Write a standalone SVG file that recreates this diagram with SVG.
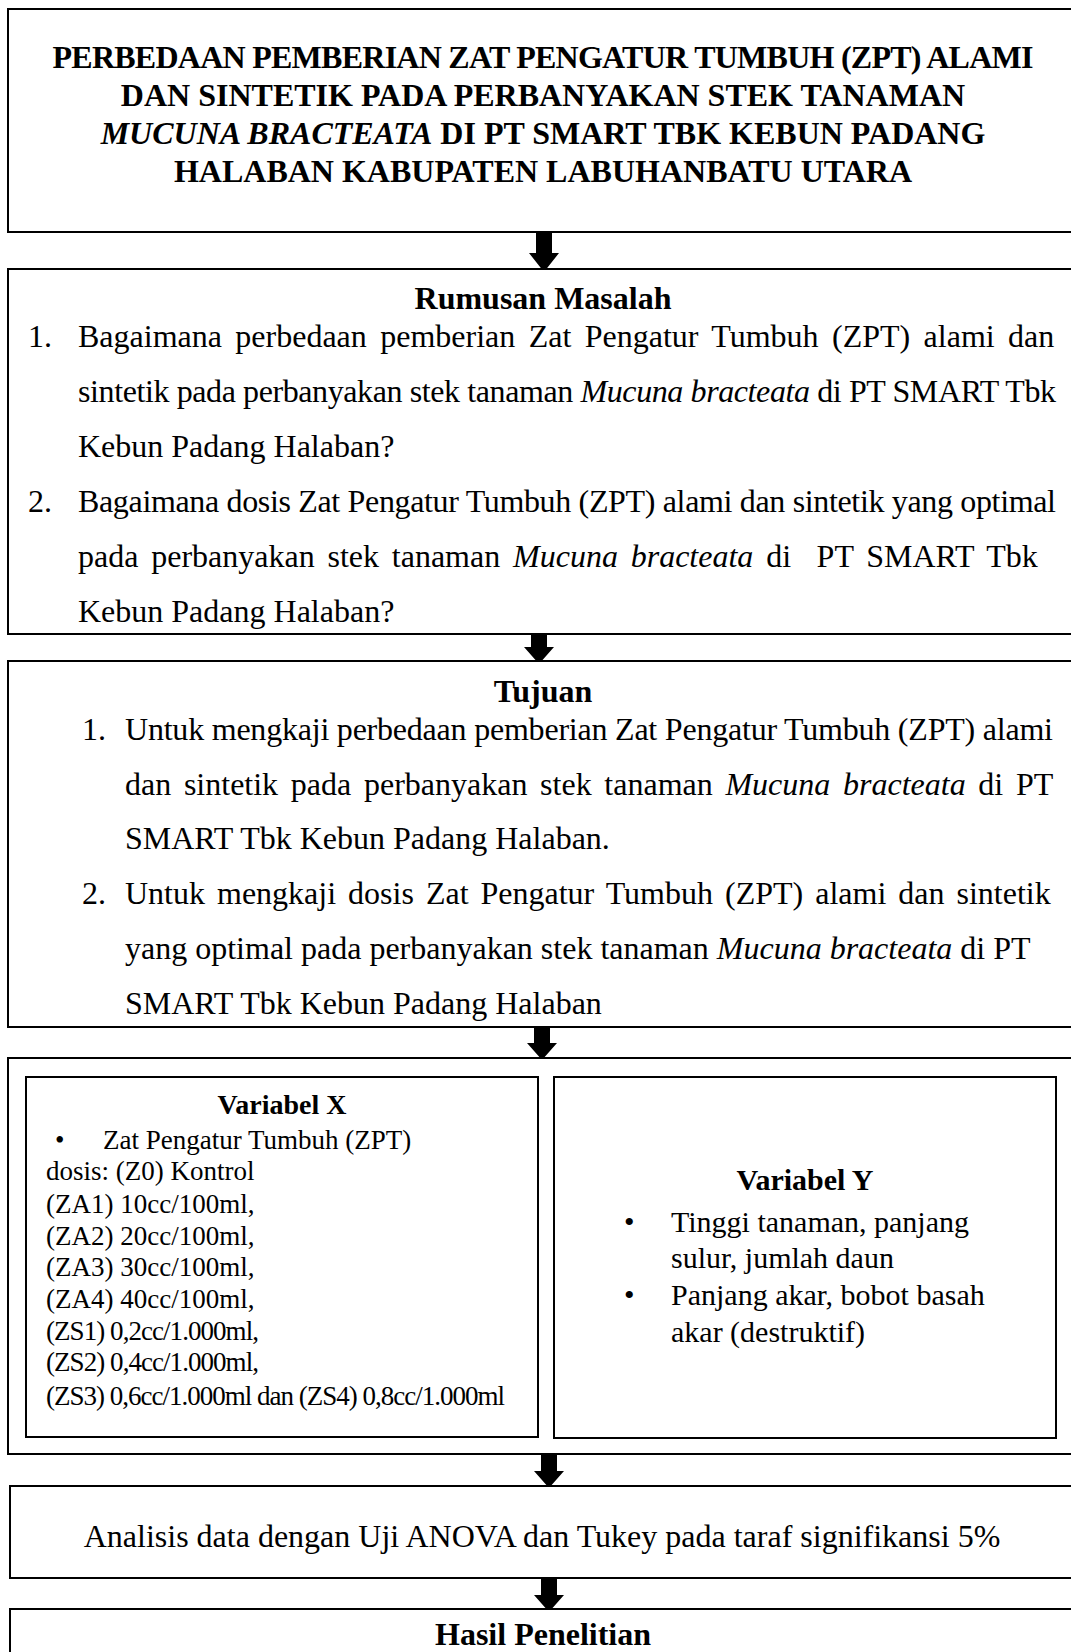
<svg xmlns="http://www.w3.org/2000/svg" width="1071" height="1652" viewBox="0 0 1071 1652">
<style>
.box{fill:#fff;stroke:#000;stroke-width:2}
.t{font-family:"Liberation Serif","Times New Roman",serif;fill:#000;font-size:32px}
.b{font-weight:bold}
.i{font-style:italic}
.c{text-anchor:middle}
.s27{font-size:27px}
.s30{font-size:30px}
.arrow{fill:#000}
</style>
<rect width="1071" height="1652" fill="#fff"/>

<g id="connectors">
<polygon class="arrow" points="536,231 552,231 552,253 559,253 544,272 529,253 536,253"/>
<polygon class="arrow" points="531,633 547,633 547,647 554,647 539,664 524,647 531,647"/>
<polygon class="arrow" points="534,1026 550,1026 550,1043 557,1043 542,1060 527,1043 534,1043"/>
<polygon class="arrow" points="541,1453 557,1453 557,1471 564,1471 549,1488 534,1471 541,1471"/>
<polygon class="arrow" points="541,1577 557,1577 557,1595 564,1595 549,1612 534,1595 541,1595"/>
</g>

<g id="node-title">
<rect class="box" x="8" y="9" width="1075" height="223"/>
<text class="t b c" x="543" y="68" textLength="981" lengthAdjust="spacing">PERBEDAAN PEMBERIAN ZAT PENGATUR TUMBUH (ZPT) ALAMI</text>
<text class="t b c" x="543" y="106">DAN SINTETIK PADA PERBANYAKAN STEK TANAMAN</text>
<text class="t b c" x="543" y="144"><tspan class="i">MUCUNA BRACTEATA</tspan> DI PT SMART TBK KEBUN PADANG</text>
<text class="t b c" x="543" y="182">HALABAN KABUPATEN LABUHANBATU UTARA</text>
</g>

<g id="node-rumusan">
<rect class="box" x="8" y="269" width="1075" height="365"/>
<text class="t b c" x="543" y="309">Rumusan Masalah</text>
<text class="t" x="28" y="347">1.</text>
<text class="t" x="78" y="347" style="word-spacing:5.4px">Bagaimana perbedaan pemberian Zat Pengatur Tumbuh (ZPT) alami dan</text>
<text class="t" x="78" y="402" textLength="978" lengthAdjust="spacing">sintetik pada perbanyakan stek tanaman <tspan class="i">Mucuna bracteata</tspan> di PT SMART Tbk</text>
<text class="t" x="78" y="457">Kebun Padang Halaban?</text>
<text class="t" x="28" y="512">2.</text>
<text class="t" x="78" y="512" textLength="978" lengthAdjust="spacing">Bagaimana dosis Zat Pengatur Tumbuh (ZPT) alami dan sintetik yang optimal</text>
<text class="t" x="78" y="567" style="word-spacing:4.8px;white-space:pre">pada perbanyakan stek tanaman <tspan class="i">Mucuna bracteata</tspan> di  PT SMART Tbk</text>
<text class="t" x="78" y="622">Kebun Padang Halaban?</text>
</g>

<g id="node-tujuan">
<rect class="box" x="8" y="661" width="1075" height="366"/>
<text class="t b c" x="543" y="702">Tujuan</text>
<text class="t" x="82" y="740">1.</text>
<text class="t" x="125" y="740" textLength="928" lengthAdjust="spacing">Untuk mengkaji perbedaan pemberian Zat Pengatur Tumbuh (ZPT) alami</text>
<text class="t" x="125" y="795" style="word-spacing:4.7px">dan sintetik pada perbanyakan stek tanaman <tspan class="i">Mucuna bracteata</tspan> di PT</text>
<text class="t" x="125" y="849">SMART Tbk Kebun Padang Halaban.</text>
<text class="t" x="82" y="904">2.</text>
<text class="t" x="125" y="904" style="word-spacing:4px">Untuk mengkaji dosis Zat Pengatur Tumbuh (ZPT) alami dan sintetik</text>
<text class="t" x="125" y="959">yang optimal pada perbanyakan stek tanaman <tspan class="i">Mucuna bracteata</tspan> di PT</text>
<text class="t" x="125" y="1014">SMART Tbk Kebun Padang Halaban</text>
</g>

<g id="node-variabel">
<rect class="box" x="8" y="1058" width="1075" height="396"/>
<g id="node-variabel-x">
<rect class="box" x="26" y="1077" width="512" height="360"/>
<text class="t b c" x="282" y="1114" style="font-size:28px">Variabel X</text>
<text class="t s27" x="55" y="1149">•</text>
<text class="t s27" x="103" y="1149">Zat Pengatur Tumbuh (ZPT)</text>
<text class="t s27" x="46" y="1180">dosis: (Z0) Kontrol</text>
<text class="t s27" x="46" y="1213">(ZA1) 10cc/100ml,</text>
<text class="t s27" x="46" y="1245">(ZA2) 20cc/100ml,</text>
<text class="t s27" x="46" y="1276">(ZA3) 30cc/100ml,</text>
<text class="t s27" x="46" y="1308">(ZA4) 40cc/100ml,</text>
<text class="t s27" x="46" y="1340" textLength="213" lengthAdjust="spacing">(ZS1) 0,2cc/1.000ml,</text>
<text class="t s27" x="46" y="1371" textLength="213" lengthAdjust="spacing">(ZS2) 0,4cc/1.000ml,</text>
<text class="t s27" x="46" y="1405" textLength="459" lengthAdjust="spacing">(ZS3) 0,6cc/1.000ml dan (ZS4) 0,8cc/1.000ml</text>
</g>
<g id="node-variabel-y">
<rect class="box" x="554" y="1077" width="502" height="361"/>
<text class="t b c s30" x="805" y="1190">Variabel Y</text>
<text class="t s30" x="624" y="1232">•</text>
<text class="t s30" x="671" y="1232">Tinggi tanaman, panjang</text>
<text class="t s30" x="671" y="1268">sulur, jumlah daun</text>
<text class="t s30" x="624" y="1305">•</text>
<text class="t s30" x="671" y="1305">Panjang akar, bobot basah</text>
<text class="t s30" x="671" y="1342">akar (destruktif)</text>
</g>
</g>

<g id="node-analisis">
<rect class="box" x="10" y="1486" width="1073" height="92"/>
<text class="t c" x="542" y="1547">Analisis data dengan Uji ANOVA dan Tukey pada taraf signifikansi 5%</text>
</g>

<g id="node-hasil">
<rect class="box" x="10" y="1609" width="1073" height="60"/>
<text class="t b c" x="543" y="1645">Hasil Penelitian</text>
</g>
</svg>
